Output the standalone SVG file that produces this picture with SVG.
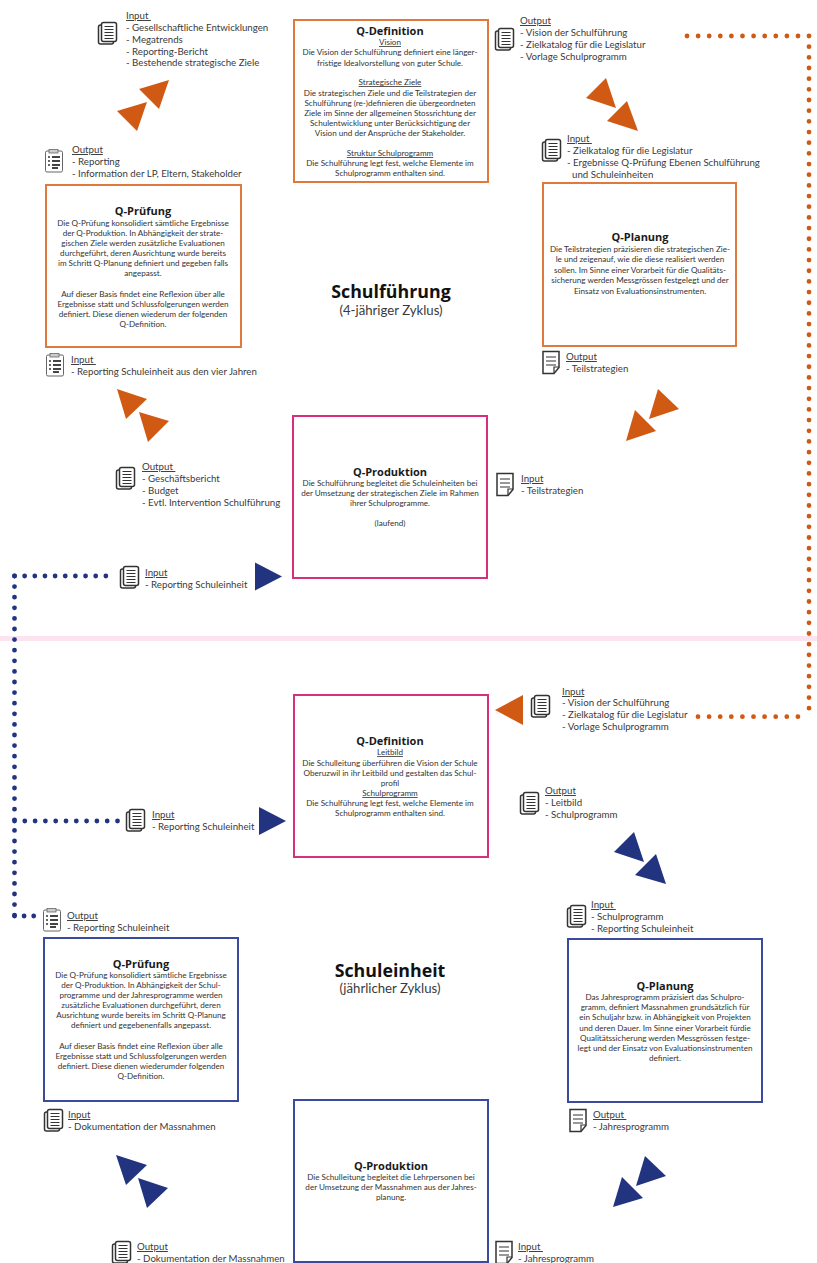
<svg xmlns="http://www.w3.org/2000/svg" width="817" height="1263" viewBox="0 0 817 1263">
<style>
text{font-family:"Lato","Open Sans","Liberation Sans",sans-serif;fill:#3a3a3a}
.b{font-size:8.1px;text-anchor:middle;fill:#333}
.h{font-family:"Open Sans","Liberation Sans",sans-serif;font-size:11px;font-weight:700;text-anchor:middle;fill:#1a1a1a}
.l{font-size:9.7px}
.u{text-decoration:underline}
.t{font-family:"Open Sans","Liberation Sans",sans-serif;font-size:17.8px;font-weight:700;text-anchor:middle;fill:#111}
.s{font-size:13.2px;text-anchor:middle}
.box{fill:#fff;stroke-width:2}
.or{stroke:#e0793d}.pk{stroke:#d62f7d}.bl{stroke:#3a4a9c}
.oa{fill:#d05a14}.ba{fill:#22337f}
.od{fill:none;stroke:#d05a14;stroke-width:4.8;stroke-linecap:round}
.bd{fill:none;stroke:#22337f;stroke-width:4.8;stroke-linecap:round}
.ic{fill:#fff;stroke:#333;stroke-width:1.5}
.il{fill:none;stroke:#333;stroke-width:1.2}
</style>
<defs>
<g id="docs"><rect class="ic" x="0.5" y="3" width="15" height="19" rx="2"/><rect class="ic" x="3.5" y="0.5" width="15" height="19" rx="2"/><path class="il" d="M6.5 4.5h9M6.5 7.5h9M6.5 10.5h9M6.5 13.5h9M6.5 16.5h9"/></g>
<g id="doc"><path class="ic" d="M1 0.5h16v16l-5 6H1z"/><path class="il" d="M4 6h10M4 10h10M4 14h10M12 22v-6h5"/></g>
<g id="chk"><rect x="0.5" y="2" width="17" height="21" rx="1.5" fill="#fff" stroke="#666" stroke-width="1"/><rect x="4" y="0.5" width="9" height="3.5" fill="#ccc" stroke="#666" stroke-width=".8"/><path d="M3 8h2M3 12h2M3 16h2" stroke="#333" stroke-width="1.5"/><path d="M7 8h8M7 12h8M7 16h8M7 19h6" stroke="#444" stroke-width="2"/></g>
<polygon id="tri" points="0,-14 27,0 0,14"/>
</defs>
<rect width="817" height="1263" fill="#fff"/>
<rect id="divider" x="0" y="636" width="817" height="5" fill="#fbe3f0"/>
<g id="connectors">
<path class="od" stroke-dasharray="0 11.1" d="M687 36H809"/>
<path class="od" stroke-dasharray="0 10.67" d="M809 36V716.7"/>
<path class="od" stroke-dasharray="0 11.1" d="M698 716.7H809"/>
<path class="bd" stroke-dasharray="0 10.15" d="M14.5 576H106"/>
<path class="bd" stroke-dasharray="0 10.6" d="M14.5 576V916"/>
<path class="bd" stroke-dasharray="0 10.3" d="M14.5 821H118"/>
<path class="bd" stroke-dasharray="0 9.6" d="M14.5 916H34"/>
<g class="oa">
<polygon points="169,80 139,89 159,109"/>
<polygon points="147,102 117,111 137,131"/>
<polygon points="586,98 606,78 616,108"/>
<polygon points="607,121 627,101 638,131"/>
<polygon points="117,389 147,399 126,419"/>
<polygon points="139,412 169,421 148,442"/>
<polygon points="679,409 658,389 649,419"/>
<polygon points="656,431 635,410 626,441"/>
<polygon points="495,710 523,695 523,725"/>
</g>
<g class="ba">
<use href="#tri" transform="translate(255,576.5)"/>
<use href="#tri" transform="translate(259,821)"/>
<polygon points="614,852 634,832 644,862"/>
<polygon points="635,875 656,854 666,884"/>
<polygon points="116,1155 147,1165 126,1185"/>
<polygon points="138,1178 168,1188 147,1208"/>
<polygon points="666,1176 645,1156 636,1186"/>
<polygon points="643,1198 622,1177 613,1207"/>
</g>
</g>
<g id="input-top"><use href="#docs" x="98" y="22"/><text class="l"><tspan class="u" x="126" y="19">Input </tspan><tspan x="126" y="31">- Gesellschaftliche Entwicklungen</tspan><tspan x="126" y="43">- Megatrends</tspan><tspan x="126" y="55">- Reporting-Bericht</tspan><tspan x="126" y="66">- Bestehende strategische Ziele</tspan></text></g>
<g id="output-pruefung"><use href="#chk" x="45" y="149"/><text class="l"><tspan class="u" x="72" y="153">Output</tspan><tspan x="72" y="165">- Reporting</tspan><tspan x="72" y="177">- Information der LP, Eltern, Stakeholder</tspan></text></g>
<g id="q-definition-1"><rect class="box or" x="294" y="20" width="194" height="162"/>
<text class="h" x="390" y="35">Q-Definition</text>
<text class="b"><tspan class="u" x="390" y="45">Vision</tspan><tspan x="390" y="55">Die Vision der Schulführung definiert eine länger-</tspan><tspan x="390" y="66">fristige Idealvorstellung von guter Schule.</tspan><tspan class="u" x="390" y="85">Strategische Ziele</tspan><tspan x="390" y="96">Die strategischen Ziele und die Teilstrategien der</tspan><tspan x="390" y="106">Schulführung (re-)definieren die übergeordneten</tspan><tspan x="390" y="116">Ziele im Sinne der allgemeinen Stossrichtung der</tspan><tspan x="390" y="126">Schulentwicklung unter Berücksichtigung der</tspan><tspan x="390" y="136">Vision und der Ansprüche der Stakeholder.</tspan><tspan class="u" x="390" y="156">Struktur Schulprogramm</tspan><tspan x="390" y="166">Die Schulführung legt fest, welche Elemente im</tspan><tspan x="390" y="176">Schulprogramm enthalten sind.</tspan></text></g>
<g id="output-def"><use href="#docs" x="495" y="28"/><text class="l"><tspan class="u" x="520" y="24">Output</tspan><tspan x="520" y="36">- Vision der Schulführung</tspan><tspan x="520" y="48">- Zielkatalog für die Legislatur</tspan><tspan x="520" y="60">- Vorlage Schulprogramm</tspan></text></g>
<g id="input-planung"><use href="#docs" x="542" y="139"/><text class="l"><tspan class="u" x="567" y="142">Input </tspan><tspan x="567" y="154">- Zielkatalog für die Legislatur</tspan><tspan x="567" y="166">- Ergebnisse Q-Prüfung Ebenen Schulführung</tspan><tspan x="572" y="178">und Schuleinheiten</tspan></text></g>
<g id="q-pruefung-1"><rect class="box or" x="46" y="185" width="195" height="162"/>
<text class="h" x="143" y="215">Q-Prüfung</text>
<text class="b"><tspan x="143" y="225.5">Die Q-Prüfung konsolidiert sämtliche Ergebnisse</tspan><tspan x="143" y="235.5">der Q-Produktion. In Abhängigkeit der strate-</tspan><tspan x="143" y="246">gischen Ziele werden zusätzliche Evaluationen</tspan><tspan x="143" y="256">durchgeführt, deren Ausrichtung wurde bereits</tspan><tspan x="143" y="266">im Schritt Q-Planung definiert und gegeben falls</tspan><tspan x="143" y="276">angepasst.</tspan><tspan x="143" y="296.5">Auf dieser Basis findet eine Reflexion über alle</tspan><tspan x="143" y="306.5">Ergebnisse statt und Schlussfolgerungen werden</tspan><tspan x="143" y="317">definiert. Diese dienen wiederum der folgenden</tspan><tspan x="143" y="327">Q-Definition.</tspan></text></g>
<g id="q-planung-1"><rect class="box or" x="543" y="183" width="193" height="163"/>
<text class="h" x="640" y="241">Q-Planung</text>
<text class="b"><tspan x="640" y="252">Die Teilstrategien präzisieren die strategischen Zie-</tspan><tspan x="640" y="262">le und zeigenauf, wie die diese realisiert werden</tspan><tspan x="640" y="273">sollen. Im Sinne einer Vorarbeit für die Qualitäts-</tspan><tspan x="640" y="283">sicherung werden Messgrössen festgelegt und der</tspan><tspan x="640" y="294">Einsatz von Evaluationsinstrumenten.</tspan></text></g>
<g id="title-1"><text class="t" x="391" y="298">Schulführung</text><text class="s" x="391" y="315">(4-jähriger Zyklus)</text></g>
<g id="input-pruefung"><use href="#chk" x="46" y="353"/><text class="l"><tspan class="u" x="71" y="363">Input </tspan><tspan x="71" y="375">- Reporting Schuleinheit aus den vier Jahren</tspan></text></g>
<g id="output-planung"><use href="#doc" x="542" y="351"/><text class="l"><tspan class="u" x="566" y="360">Output</tspan><tspan x="566" y="372">- Teilstrategien</tspan></text></g>
<g id="output-produktion"><use href="#docs" x="116" y="467"/><text class="l"><tspan class="u" x="142" y="470">Output </tspan><tspan x="142" y="482">- Geschäftsbericht</tspan><tspan x="142" y="494">- Budget</tspan><tspan x="142" y="506">- Evtl. Intervention Schulführung</tspan></text></g>
<g id="q-produktion-1"><rect class="box pk" x="293" y="416" width="194" height="162"/>
<text class="h" x="390" y="476">Q-Produktion</text>
<text class="b"><tspan x="390" y="486">Die Schulführung begleitet die Schuleinheiten bei</tspan><tspan x="390" y="496">der Umsetzung der strategischen Ziele im Rahmen</tspan><tspan x="390" y="506">ihrer Schulprogramme.</tspan><tspan x="390" y="526">(laufend)</tspan></text></g>
<g id="input-produktion"><use href="#doc" x="496" y="473"/><text class="l"><tspan class="u" x="521" y="482">Input</tspan><tspan x="521" y="494">- Teilstrategien</tspan></text></g>
<g id="input-reporting-1"><use href="#docs" x="120" y="566"/><text class="l"><tspan class="u" x="145" y="576">Input</tspan><tspan x="145" y="588">- Reporting Schuleinheit</tspan></text></g>
<g id="input-def2"><use href="#docs" x="531" y="695"/><text class="l"><tspan class="u" x="562" y="695">Input</tspan><tspan x="562" y="706">- Vision der Schulführung</tspan><tspan x="562" y="718">- Zielkatalog für die Legislatur</tspan><tspan x="562" y="730">- Vorlage Schulprogramm</tspan></text></g>
<g id="q-definition-2"><rect class="box pk" x="294" y="695" width="194" height="162"/>
<text class="h" x="390" y="745">Q-Definition</text>
<text class="b"><tspan class="u" x="390" y="755">Leitbild</tspan><tspan x="390" y="765.5">Die Schulleitung überführen die Vision der Schule</tspan><tspan x="390" y="775.5">Oberuzwil in ihr Leitbild und gestalten das Schul-</tspan><tspan x="390" y="786">profil</tspan><tspan class="u" x="390" y="796">Schulprogramm</tspan><tspan x="390" y="806">Die Schulführung legt fest, welche Elemente im</tspan><tspan x="390" y="816">Schulprogramm enthalten sind.</tspan></text></g>
<g id="output-def2"><use href="#docs" x="520" y="792"/><text class="l"><tspan class="u" x="545" y="794">Output</tspan><tspan x="545" y="806">- Leitbild</tspan><tspan x="545" y="818">- Schulprogramm</tspan></text></g>
<g id="input-reporting-2"><use href="#docs" x="126" y="809"/><text class="l"><tspan class="u" x="152" y="818">Input</tspan><tspan x="152" y="830">- Reporting Schuleinheit</tspan></text></g>
<g id="output-pruefung-2"><use href="#chk" x="43" y="908"/><text class="l"><tspan class="u" x="67" y="919">Output</tspan><tspan x="67" y="931">- Reporting Schuleinheit</tspan></text></g>
<g id="input-planung-2"><use href="#docs" x="567" y="905"/><text class="l"><tspan class="u" x="591" y="908">Input </tspan><tspan x="591" y="920">- Schulprogramm</tspan><tspan x="591" y="932">- Reporting Schuleinheit</tspan></text></g>
<g id="q-pruefung-2"><rect class="box bl" x="44" y="938" width="194" height="163"/>
<text class="h" x="141" y="968">Q-Prüfung</text>
<text class="b"><tspan x="141" y="978">Die Q-Prüfung konsolidiert sämtliche Ergebnisse</tspan><tspan x="141" y="988">der Q-Produktion. In Abhängigkeit der Schul-</tspan><tspan x="141" y="998">programme und der Jahresprogramme werden</tspan><tspan x="141" y="1008">zusätzliche Evaluationen durchgeführt, deren</tspan><tspan x="141" y="1018">Ausrichtung wurde bereits im Schritt Q-Planung</tspan><tspan x="141" y="1028">definiert und gegebenenfalls angepasst.</tspan><tspan x="141" y="1049">Auf dieser Basis findet eine Reflexion über alle</tspan><tspan x="141" y="1059">Ergebnisse statt und Schlussfolgerungen werden</tspan><tspan x="141" y="1069">definiert. Diese dienen wiederumder folgenden</tspan><tspan x="141" y="1079">Q-Definition.</tspan></text></g>
<g id="q-planung-2"><rect class="box bl" x="568" y="939" width="194" height="163"/>
<text class="h" x="665" y="990">Q-Planung</text>
<text class="b"><tspan x="665" y="1000">Das Jahresprogramm präzisiert das Schulpro-</tspan><tspan x="665" y="1010">gramm, definiert Massnahmen grundsätzlich für</tspan><tspan x="665" y="1020">ein Schuljahr bzw. in Abhängigkeit von Projekten</tspan><tspan x="665" y="1031">und deren Dauer. Im Sinne einer Vorarbeit fürdie</tspan><tspan x="665" y="1041">Qualitätssicherung werden Messgrössen festge-</tspan><tspan x="665" y="1051">legt und der Einsatz von Evaluationsinstrumenten</tspan><tspan x="665" y="1061">definiert.</tspan></text></g>
<g id="title-2"><text class="t" x="390" y="977">Schuleinheit</text><text class="s" x="390" y="993">(jährlicher Zyklus)</text></g>
<g id="input-pruefung-2"><use href="#docs" x="44" y="1109"/><text class="l"><tspan class="u" x="68" y="1118">Input</tspan><tspan x="68" y="1130">- Dokumentation der Massnahmen</tspan></text></g>
<g id="output-planung-2"><use href="#doc" x="569" y="1109"/><text class="l"><tspan class="u" x="593" y="1118">Output </tspan><tspan x="593" y="1130">- Jahresprogramm</tspan></text></g>
<g id="q-produktion-2"><rect class="box bl" x="294" y="1100" width="194" height="162"/>
<text class="h" x="391" y="1170">Q-Produktion</text>
<text class="b"><tspan x="391" y="1180">Die Schulleitung begleitet die Lehrpersonen bei</tspan><tspan x="391" y="1190">der Umsetzung der Massnahmen aus der Jahres-</tspan><tspan x="391" y="1200">planung.</tspan></text></g>
<g id="output-produktion-2"><use href="#docs" x="112" y="1241"/><text class="l"><tspan class="u" x="137" y="1250">Output</tspan><tspan x="137" y="1262">- Dokumentation der Massnahmen</tspan></text></g>
<g id="input-produktion-2"><use href="#doc" x="495" y="1241"/><text class="l"><tspan class="u" x="518" y="1250">Input </tspan><tspan x="518" y="1262">- Jahresprogramm</tspan></text></g>
</svg>
